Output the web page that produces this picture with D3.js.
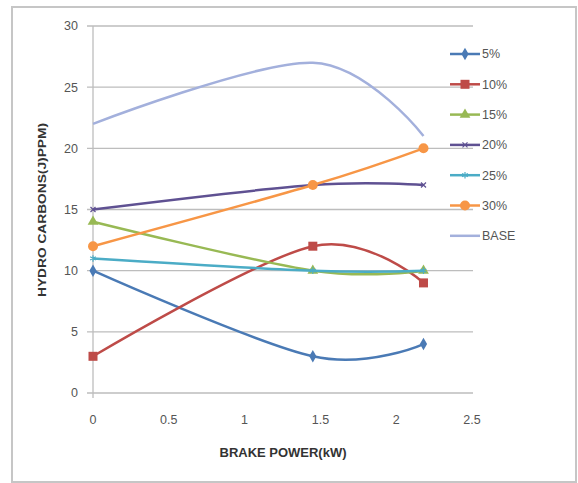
<!DOCTYPE html>
<html><head><meta charset="utf-8">
<script src="https://cdn.jsdelivr.net/npm/d3@7"></script>
<style>body{margin:0;background:#fff;} svg{display:block;}</style>
</head><body>
<svg id="c" width="578" height="483"></svg>
<script>
const xValues = [0, 1.45, 2.18];
const seriesNames = ["5%", "10%", "15%", "20%", "25%", "30%", "BASE"];
const s5 = [10, 3, 4];
const s10 = [3, 12, 9];
const s15 = [14, 10, 10];
const s20 = [15, 17, 17];
const s25 = [11, 10, 10];
const s30 = [12, 17, 20];
const sBase = [22, 27, 21];
const xTicks = [0, 0.5, 1, 1.5, 2, 2.5];
const xTickLabels = ["0", "0.5", "1", "1.5", "2", "2.5"];
const yTicks = [0, 5, 10, 15, 20, 25, 30];
const colors = ["#4a7ab5", "#be4b48", "#98b954", "#5f5192", "#4bacc6", "#f79646", "#a3b0dc"];
const markers = ["diamond", "square", "triangle", "x", "star", "circle", null];
const allValues = [s5, s10, s15, s20, s25, s30, sBase];

const svg = d3.select("#c");
svg.append("rect").attr("x", 12).attr("y", 7).attr("width", 564).attr("height", 475)
  .attr("fill", "#fff").attr("stroke", "#c6c6c6").attr("stroke-width", 2);

const x = d3.scaleLinear().domain([0, 2.5]).range([93, 472]);
const y = d3.scaleLinear().domain([0, 30]).range([393, 26]);

svg.append("g").selectAll("line").data(yTicks).join("line")
  .attr("x1", 87).attr("x2", 473).attr("y1", d => y(d)).attr("y2", d => y(d))
  .attr("stroke", "#bdbdbd").attr("stroke-width", 1.3);
svg.append("line").attr("x1", x(0)).attr("x2", x(0)).attr("y1", y(30)).attr("y2", y(0) + 5)
  .attr("stroke", "#bdbdbd").attr("stroke-width", 1.3);

svg.append("g").selectAll("text").data(yTicks).join("text")
  .attr("x", 78).attr("y", d => y(d)).attr("dy", "0.35em").attr("text-anchor", "end")
  .attr("font-family", "Liberation Sans, Arial, sans-serif").attr("font-size", 12.5)
  .attr("fill", "#555").text(d => d);
svg.append("g").selectAll("text").data(xTicks).join("text")
  .attr("x", d => x(d)).attr("y", 420).attr("dy", "0.35em").attr("text-anchor", "middle")
  .attr("font-family", "Liberation Sans, Arial, sans-serif").attr("font-size", 12.5)
  .attr("fill", "#555").text((d, i) => xTickLabels[i]);

svg.append("text").attr("x", 283).attr("y", 453).attr("dy", "0.35em").attr("text-anchor", "middle")
  .attr("font-family", "Liberation Sans, Arial, sans-serif").attr("font-weight", "bold")
  .attr("font-size", 12).attr("fill", "#333").attr("textLength", 127).attr("lengthAdjust", "spacingAndGlyphs")
  .text("BRAKE POWER(kW)");
svg.append("text").attr("transform", "translate(42,210) rotate(-90)").attr("dy", "0.35em").attr("text-anchor", "middle")
  .attr("font-family", "Liberation Sans, Arial, sans-serif").attr("font-weight", "bold")
  .attr("font-size", 11).attr("fill", "#333").attr("textLength", 174).attr("lengthAdjust", "spacingAndGlyphs")
  .text("HYDRO CARBONS(J)PPM)");

const line = d3.line().x(d => x(d[0])).y(d => y(d[1])).curve(d3.curveCatmullRom.alpha(0));

function drawMarker(g, type, cx, cy, color) {
  if (!type) return;
  if (type === "diamond") g.append("path").attr("d", d3.symbol(d3.symbolDiamond, 45)()).attr("transform", `translate(${cx},${cy})`).attr("fill", color);
  else if (type === "square") g.append("rect").attr("x", cx - 4.5).attr("y", cy - 4.5).attr("width", 9).attr("height", 9).attr("fill", color);
  else if (type === "triangle") g.append("path").attr("d", d3.symbol(d3.symbolTriangle, 50)()).attr("transform", `translate(${cx},${cy})`).attr("fill", color);
  else if (type === "x") g.append("path").attr("d", d3.symbol(d3.symbolX, 18)()).attr("transform", `translate(${cx},${cy})`).attr("stroke", color).attr("stroke-width", 1.2).attr("fill", "none");
  else if (type === "star") g.append("path").attr("d", d3.symbol(d3.symbolAsterisk, 30)()).attr("transform", `translate(${cx},${cy})`).attr("stroke", color).attr("stroke-width", 1.2).attr("fill", "none");
  else if (type === "circle") g.append("circle").attr("cx", cx).attr("cy", cy).attr("r", 5).attr("fill", color);
}

const order = [6, 0, 1, 2, 3, 4, 5];
order.forEach(i => {
  const pts = xValues.map((xv, j) => [xv, allValues[i][j]]);
  const g = svg.append("g");
  g.append("path").attr("d", line(pts)).attr("fill", "none").attr("stroke", colors[i]).attr("stroke-width", 2.5);
  pts.forEach(p => drawMarker(g, markers[i], x(p[0]), y(p[1]), colors[i]));
});

const lg = svg.append("g");
seriesNames.forEach((name, i) => {
  const ly = 54 + i * 30.3;
  lg.append("line").attr("x1", 450).attr("x2", 480).attr("y1", ly).attr("y2", ly).attr("stroke", colors[i]).attr("stroke-width", 2.5);
  drawMarker(lg, markers[i], 465, ly, colors[i]);
  lg.append("text").attr("x", 482).attr("y", ly).attr("dy", "0.35em")
    .attr("font-family", "Liberation Sans, Arial, sans-serif").attr("font-size", 12.5).attr("fill", "#555").text(name);
});
</script>
</body></html>
